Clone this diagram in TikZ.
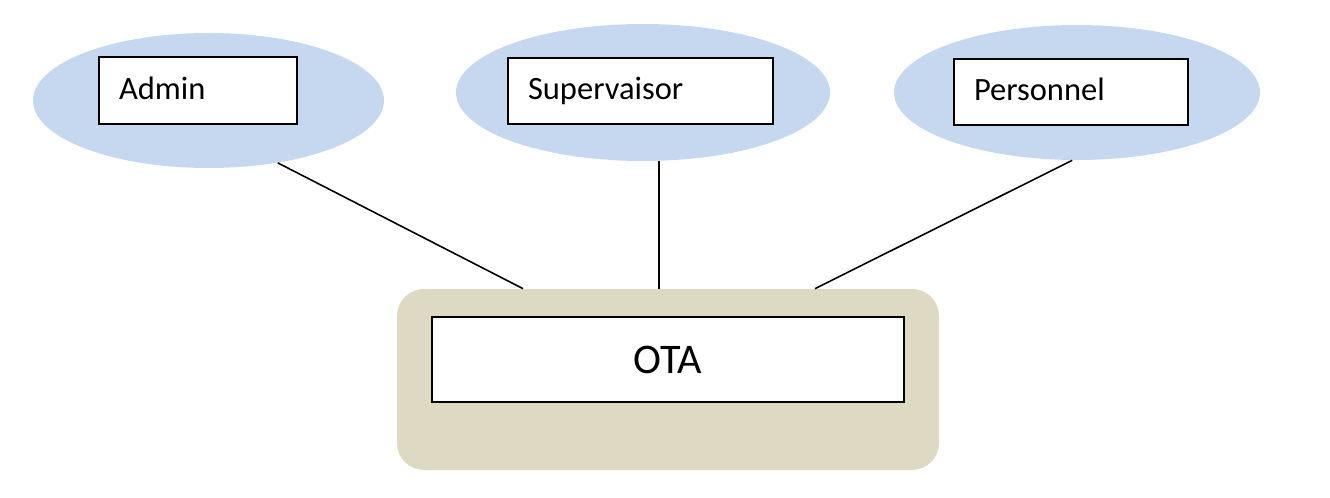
\documentclass[tikz,border=0pt]{standalone}
\usepackage{fontspec}
\setmainfont{Carlito}
\usetikzlibrary{shapes.geometric, calc}

\definecolor{rolecol}{RGB}{198,216,239}
\definecolor{otabg}{RGB}{221,217,195}

\begin{document}
\begin{tikzpicture}[
  role/.style={ellipse, fill=rolecol},
  namebox/.style={draw, line width=1.1pt, fill=white, align=left, inner xsep=0.4cm,
    text height=0.45cm, text depth=0.09cm, minimum height=1.33cm,
    font=\fontsize{18.5}{22}\selectfont},
  link/.style={line width=0.9pt}
]
\useasboundingbox (0,0) rectangle (26.6,-9.96);

% actors
\node[role, minimum width=7.02cm, minimum height=2.70cm] (adminE) at (4.17,-2.01) {};
\node[role, minimum width=7.48cm, minimum height=2.74cm] (superE) at (12.86,-1.85) {};
\node[role, minimum width=7.32cm, minimum height=2.70cm] (persE) at (21.54,-1.85) {};

\node[namebox, text width=3.16cm] (admin) at (3.96,-1.81) {Admin};
\node[namebox, text width=4.50cm] (super) at (12.81,-1.82) {Supervaisor};
\node[namebox, text width=3.88cm] (pers) at (21.42,-1.84) {Personnel};

% system
\node[fill=otabg, rounded corners=0.54cm, minimum width=10.84cm, minimum height=3.62cm] (otaBg) at (13.36,-7.59) {};
\node[draw, line width=1.1pt, fill=white, minimum width=9.44cm, minimum height=1.70cm,
  font=\fontsize{24}{28}\selectfont] (ota) at (13.36,-7.19) {OTA};

\draw[link] (adminE.-42) -- ($(otaBg.north)+(-2.9,0)$);
\draw[link] (superE.-77) -- (superE.-77 |- otaBg.north);
\draw[link] (persE.-94) -- ($(otaBg.north)+(2.94,0)$);
\end{tikzpicture}
\end{document}
